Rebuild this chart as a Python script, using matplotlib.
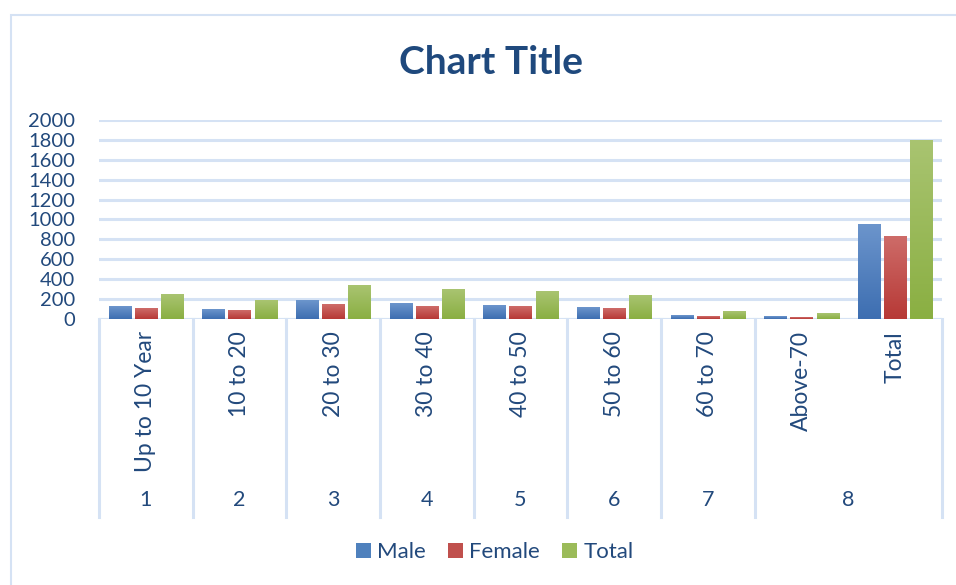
import numpy as np
import matplotlib.pyplot as plt
from matplotlib.patches import Rectangle, Patch
from matplotlib.colors import LinearSegmentedColormap

plt.rcParams['font.family'] = ['Lato', 'DejaVu Sans']

# data
groups = ["1", "2", "3", "4", "5", "6", "7", "8"]
age_bands = ["Up to 10 Year", "10 to 20", "20 to 30", "30 to 40", "40 to 50",
             "50 to 60", "60 to 70", "Above-70", "Total"]
band_group = [0, 1, 2, 3, 4, 5, 6, 7, 7]
male = [130, 100, 190, 160, 140, 120, 40, 30, 955]
female = [110, 90, 150, 130, 130, 110, 30, 20, 835]
total = [250, 190, 340, 300, 280, 240, 80, 60, 1800]
yticks = list(range(0, 2001, 200))

text_col = '#22497C'
grid_col = '#D5E2F4'
series = [
    ("Male", male, '#3D6EB1', '#6C95CC', '#4F81BD'),
    ("Female", female, '#B73936', '#CE6C69', '#C0504D'),
    ("Total", total, '#8AAF42', '#A9C471', '#9BBB59'),
]

W, H = 956, 585
fig = plt.figure(figsize=(W / 100, H / 100), dpi=100)
ax = fig.add_axes([99 / W, 1 - 319 / H, (942 - 99) / W, (319 - 120) / H])

x = np.arange(len(age_bands))
bw = 0.235
step = 0.278
grad = np.linspace(0, 1, 128).reshape(-1, 1)

for k, (name, vals, dark, light, mid) in enumerate(series):
    bars = ax.bar(x + (k - 1) * step, vals, width=bw, color=mid, zorder=3)
    cmap = LinearSegmentedColormap.from_list(name, [dark, light])
    for p in bars:
        x0, y0 = p.get_x(), p.get_y()
        im = ax.imshow(grad, extent=[x0, x0 + p.get_width(), y0, y0 + p.get_height()],
                       origin='lower', aspect='auto', cmap=cmap, zorder=4)
        im.set_clip_path(p)

ax.set_xlim(-0.5, len(age_bands) - 0.5)
ax.set_ylim(0, 2000)
ax.set_yticks(yticks)
ax.set_yticklabels([str(v) for v in yticks])
ax.tick_params(axis='y', length=0, pad=17, labelsize=14.5, labelcolor=text_col)
ax.set_xticks([])
for s in ax.spines.values():
    s.set_visible(False)
ax.yaxis.grid(True, color=grid_col, lw=2.2, zorder=0)
ax.set_axisbelow(True)
ax.axhline(0, color=grid_col, lw=2.2, zorder=2)

# multi-level category axis
tr = ax.get_xaxis_transform()
for i, lab in enumerate(age_bands):
    ax.text(i, -0.06, lab, rotation=90, ha='center', va='top', transform=tr,
            fontsize=16.5, color=text_col)
edges = [-0.5]
for gi, g in enumerate(groups):
    idx = [i for i, b in enumerate(band_group) if b == gi]
    ax.text(np.mean(idx), -0.91, g, ha='center', va='center', transform=tr,
            fontsize=15.5, color=text_col)
    edges.append(max(idx) + 0.5)
for e in edges:
    ax.plot([e, e], [0, -0.995], transform=tr, color=grid_col, lw=2.2,
            clip_on=False, zorder=1)

# chart area border
fig.patches.append(Rectangle((11 / W, -0.1), 1.2, 1 - 15 / H + 0.1,
                             transform=fig.transFigure, fill=False,
                             edgecolor=grid_col, lw=1.5))

fig.text(491 / W, 1 - 62 / H, "Chart Title", ha='center', va='center',
         fontsize=28, fontweight='bold', color='#1F497D')

handles = [Patch(facecolor=s[4], edgecolor='none') for s in series]
fig.legend(handles, [s[0] for s in series], loc='center',
           bbox_to_anchor=(495 / W, 1 - 552 / H), ncol=3, frameon=False,
           fontsize=16, labelcolor=text_col, handlelength=0.65, handleheight=0.65,
           handletextpad=0.3, columnspacing=1.0)

fig.savefig('out.png', dpi=100)
